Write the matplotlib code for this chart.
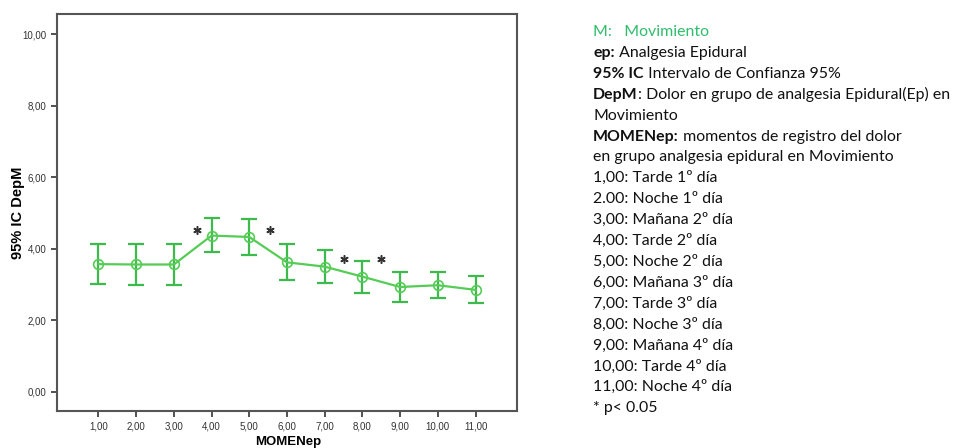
import numpy as np
import matplotlib
matplotlib.use("Agg")
import matplotlib.pyplot as plt

# medias e IC 95% del dolor en movimiento, grupo epidural
momentos = [1, 2, 3, 4, 5, 6, 7, 8, 9, 10, 11]
media = [3.57, 3.56, 3.56, 4.37, 4.33, 3.62, 3.50, 3.22, 2.93, 2.98, 2.85]
ic_sup = [4.14, 4.14, 4.14, 4.87, 4.84, 4.13, 3.96, 3.66, 3.34, 3.35, 3.24]
ic_inf = [3.01, 2.99, 2.99, 3.90, 3.82, 3.13, 3.04, 2.77, 2.52, 2.62, 2.47]
etiquetas_x = ["1,00", "2,00", "3,00", "4,00", "5,00", "6,00",
               "7,00", "8,00", "9,00", "10,00", "11,00"]
etiquetas_y = ["0,00", "2,00", "4,00", "6,00", "8,00", "10,00"]

# asteriscos de significacion (p < 0.05)
sig_x = [3.6, 5.55, 7.5, 8.5]
sig_y = [4.52, 4.52, 3.70, 3.70]

leyenda = [
    ("M:   Movimiento", None, "#2ebd6b"),
    ("ep:", " Analgesia Epidural", "#111111"),
    ("95% IC", " Intervalo de Confianza 95%", "#111111"),
    ("DepM", ": Dolor en grupo de analgesia Epidural(Ep) en", "#111111"),
    ("", "Movimiento", "#111111"),
    ("MOMENep:", " momentos de registro del dolor", "#111111"),
    ("", "en grupo analgesia epidural en Movimiento", "#111111"),
    ("", "1,00: Tarde 1º día", "#111111"),
    ("", "2.00: Noche 1º día", "#111111"),
    ("", "3,00: Mañana 2º día", "#111111"),
    ("", "4,00: Tarde 2º día", "#111111"),
    ("", "5,00: Noche 2º día", "#111111"),
    ("", "6,00: Mañana 3º día", "#111111"),
    ("", "7,00: Tarde 3º día", "#111111"),
    ("", "8,00: Noche 3º día", "#111111"),
    ("", "9,00: Mañana 4º día", "#111111"),
    ("", "10,00: Tarde 4º día", "#111111"),
    ("", "11,00: Noche 4º día", "#111111"),
    ("", "* p< 0.05", "#111111"),
]

fig = plt.figure(figsize=(9.55, 4.48), dpi=100)
ax = fig.add_axes([57 / 955, 37 / 448, 460 / 955, 397 / 448])

media = np.array(media)
err = [media - np.array(ic_inf), np.array(ic_sup) - media]
ax.errorbar(momentos, media, yerr=err, fmt="none", ecolor="#3cba4c",
            elinewidth=1.6, capsize=6, capthick=1.6, zorder=2)
ax.plot(momentos, media, color="#55cc55", lw=1.6, marker="o", ms=7,
        mfc="none", mec="#55cc55", mew=1.2, zorder=3)

ax.plot(sig_x, sig_y, ls="none", marker=(6, 2, 0), ms=6, mew=1.1,
        color="#333333", zorder=4)

ax.set_xlim(-0.1, 12.1)
ax.set_ylim(-0.54, 10.57)
ax.set_xticks(momentos)
ax.set_xticklabels(etiquetas_x, family="Liberation Sans")
ax.set_yticks([0, 2, 4, 6, 8, 10])
ax.set_yticklabels(etiquetas_y, family="Liberation Sans")
ax.tick_params(labelsize=7, colors="#333333", length=4, width=1.2)
for s in ax.spines.values():
    s.set_color("#555555")
    s.set_linewidth(1.5)

ax.set_ylabel("95% IC DepM", fontsize=10.5, fontweight="bold",
              family="Liberation Sans", va="center")
ax.yaxis.set_label_coords(-0.085, 0.5)
ax.set_xlabel("MOMENep", fontsize=9.5, fontweight="bold",
              family="Liberation Sans", va="center")
ax.xaxis.set_label_coords(0.502, -0.078)

# bloque de texto explicativo a la derecha
x0 = 593
y0 = 448 - 32
paso = 20.9
fs = 11.45
for i, (neg, resto, col) in enumerate(leyenda):
    y = (y0 - i * paso) / 448
    if resto is None:
        fig.text(x0 / 955, y, neg, fontsize=fs, color=col, family="Lato",
                 va="center")
        continue
    if neg:
        t = fig.text(x0 / 955, y, neg, fontsize=fs, color=col,
                     family="Lato", fontweight="bold", va="center")
        fig.canvas.draw()
        xr = t.get_window_extent().x1 / 955
    else:
        xr = x0 / 955
    fig.text(xr, y, resto, fontsize=fs, color=col, family="Lato",
             va="center")

fig.savefig("out.png", dpi=100)
